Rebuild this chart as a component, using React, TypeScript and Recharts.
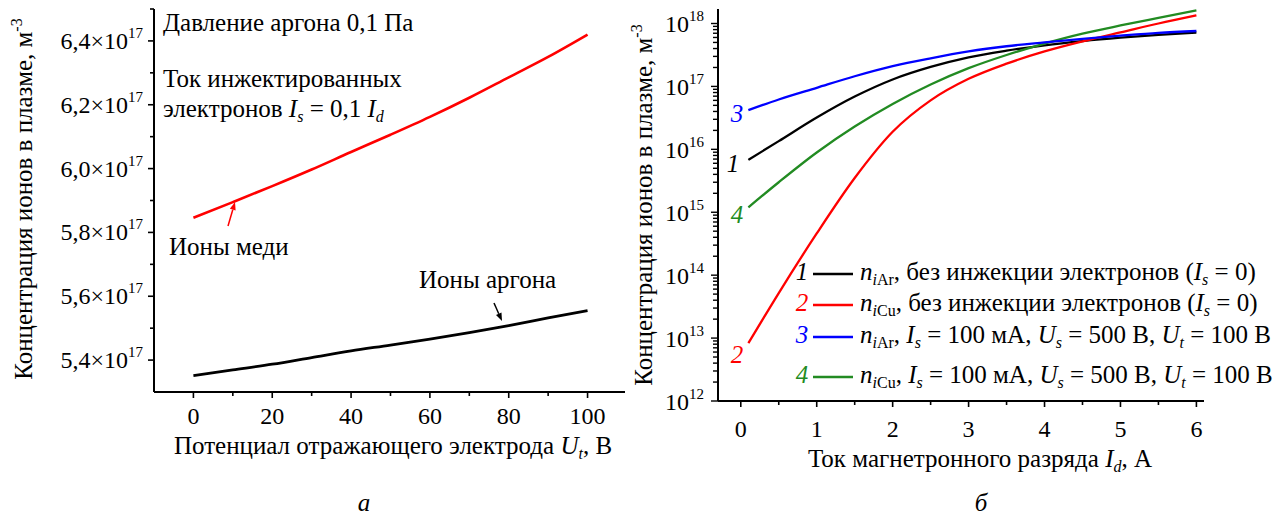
import React from 'react';
import { LineChart, Line, XAxis, YAxis } from 'recharts';

const FONT = "'Liberation Serif', 'DejaVu Serif', 'Times New Roman', serif";

// panel "а": ion density vs reflecting electrode potential
const utValues = [0, 10, 20, 30, 40, 50, 60, 70, 80, 90, 100];
const cuIons = [5.846e17, 5.895e17, 5.945e17, 5.997e17, 6.052e17, 6.106e17, 6.162e17, 6.222e17, 6.286e17, 6.35e17, 6.42e17];
const arIons = [5.351e17, 5.369e17, 5.387e17, 5.408e17, 5.429e17, 5.447e17, 5.466e17, 5.486e17, 5.508e17, 5.532e17, 5.555e17];
const aXMajor = [0, 20, 40, 60, 80, 100];
const aXMinor = [10, 30, 50, 70, 90];
const aYMajor = [5.4e17, 5.6e17, 5.8e17, 6.0e17, 6.2e17, 6.4e17];
const aYMinor = [5.5e17, 5.7e17, 5.9e17, 6.1e17, 6.3e17, 6.5e17];

// panel "б": ion density vs discharge current (log)
const idValues = [0.1, 0.5, 1, 1.5, 2, 2.5, 3, 3.5, 4, 4.5, 5, 5.5, 6];
const nArNoInj = [6.8e15, 1.35e16, 3.2e16, 6.9e16, 1.29e17, 2.04e17, 2.9e17, 3.7e17, 4.5e17, 5.25e17, 5.95e17, 6.6e17, 7.2e17];
const nCuNoInj = [8.3e12, 5.2e13, 4.6e14, 3.5e15, 1.9e16, 6.0e16, 1.32e17, 2.3e17, 3.6e17, 5.2e17, 7.2e17, 1.0e18, 1.35e18];
const nArInj = [4.2e16, 6.2e16, 9.5e16, 1.45e17, 2.1e17, 2.8e17, 3.6e17, 4.35e17, 5.0e17, 5.7e17, 6.4e17, 7.1e17, 7.6e17];
const nCuInj = [1.2e15, 3.0e15, 8.9e15, 2.3e16, 5.25e16, 1.07e17, 1.95e17, 3.16e17, 4.8e17, 6.9e17, 9.3e17, 1.23e18, 1.62e18];
const bXMajor = [0, 1, 2, 3, 4, 5, 6];
const bXMinor = [0.5, 1.5, 2.5, 3.5, 4.5, 5.5];
const bYDecades = [12, 13, 14, 15, 16, 17, 18];
const bYSteps = [2, 3, 4, 5, 6, 7, 8, 9];
const B_Y_MAX = 1.7e18;

const RED = '#ff0000';
const BLUE = '#0000ff';
const GREEN = '#228b22';
const BLACK = '#000000';

const aData = utValues.map((x, i) => ({ x, cu: cuIons[i], ar: arIons[i] }));
const bData = idValues.map((x, i) => ({ x, s1: nArNoInj[i], s2: nCuNoInj[i], s3: nArInj[i], s4: nCuInj[i] }));

const aXTicks = [...aXMajor, ...aXMinor].sort((p, q) => p - q);
const aYTicks = [...aYMajor, ...aYMinor].sort((p, q) => p - q);
const bXTicks = [...bXMajor, ...bXMinor].sort((p, q) => p - q);
const bYTicks: number[] = [];
bYDecades.forEach((d) => {
  bYTicks.push(Math.pow(10, d));
  bYSteps.forEach((m) => {
    const v = m * Math.pow(10, d);
    if (v <= B_Y_MAX) bYTicks.push(v);
  });
});

const fontStyle = { fontFamily: FONT };

const AXTick = (props: any) => {
  const { x, y, payload } = props;
  const major = aXMajor.includes(payload.value);
  return (
    <g>
      <line x1={x} x2={x} y1={y} y2={y + (major ? 6 : 4)} stroke={BLACK} strokeWidth={1.6} />
      {major && (
        <text x={x} y={y + 32} textAnchor="middle" fontSize={24} style={fontStyle} fill={BLACK}>
          {payload.value}
        </text>
      )}
    </g>
  );
};

const AYTick = (props: any) => {
  const { x, y, payload } = props;
  const major = aYMajor.includes(payload.value);
  const label = (payload.value / 1e17).toFixed(1).replace('.', ',');
  return (
    <g>
      <line x1={x - (major ? 6 : 4)} x2={x} y1={y} y2={y} stroke={BLACK} strokeWidth={1.6} />
      {major && (
        <text x={x - 11} y={y + 8} textAnchor="end" fontSize={24} style={fontStyle} fill={BLACK}>
          {label}×10
          <tspan dy={-11} fontSize={15}>17</tspan>
        </text>
      )}
    </g>
  );
};

const BXTick = (props: any) => {
  const { x, y, payload } = props;
  const major = bXMajor.includes(payload.value);
  return (
    <g>
      <line x1={x} x2={x} y1={y} y2={y + (major ? 6 : 4)} stroke={BLACK} strokeWidth={1.6} />
      {major && (
        <text x={x} y={y + 36} textAnchor="middle" fontSize={24} style={fontStyle} fill={BLACK}>
          {payload.value}
        </text>
      )}
    </g>
  );
};

const BYTick = (props: any) => {
  const { x, y, payload } = props;
  const lg = Math.log10(payload.value);
  const major = Math.abs(lg - Math.round(lg)) < 1e-9;
  return (
    <g>
      <line x1={x - (major ? 7 : 5)} x2={x} y1={y} y2={y} stroke={BLACK} strokeWidth={1.4} />
      {major && (
        <text x={x - 14} y={y + 9} textAnchor="end" fontSize={24} style={fontStyle} fill={BLACK}>
          10
          <tspan dy={-11} fontSize={15}>{Math.round(lg)}</tspan>
        </text>
      )}
    </g>
  );
};

const axisLine = { stroke: BLACK, strokeWidth: 2 };

function LegendRow({ y, num, color, kind, rest }: { y: number; num: string; color: string; kind: string; rest: 'none' | 'inj' }) {
  return (
    <g fontSize={25} fill={BLACK}>
      <text x={802} y={y} textAnchor="middle" fontStyle="italic" fill={color}>{num}</text>
      <line x1={813} x2={853} y1={y - 6} y2={y - 6} stroke={color} strokeWidth={2.3} />
      <text x={860} y={y}>
        <tspan fontStyle="italic">n</tspan>
        <tspan fontSize={16} dy={5} fontStyle="italic">i</tspan>
        <tspan fontSize={16}>{kind}</tspan>
        {rest === 'none' ? (
          <>
            <tspan dy={-5}>, без инжекции электронов (</tspan>
            <tspan fontStyle="italic">I</tspan>
            <tspan fontSize={16} dy={5} fontStyle="italic">s</tspan>
            <tspan dy={-5}> = 0)</tspan>
          </>
        ) : (
          <>
            <tspan dy={-5}>, </tspan>
            <tspan fontStyle="italic">I</tspan>
            <tspan fontSize={16} dy={5} fontStyle="italic">s</tspan>
            <tspan dy={-5}> = 100 мА, </tspan>
            <tspan fontStyle="italic">U</tspan>
            <tspan fontSize={16} dy={5} fontStyle="italic">s</tspan>
            <tspan dy={-5}> = 500 В, </tspan>
            <tspan fontStyle="italic">U</tspan>
            <tspan fontSize={16} dy={5} fontStyle="italic">t</tspan>
            <tspan dy={-5}> = 100 В</tspan>
          </>
        )}
      </text>
    </g>
  );
}

function Arrow({ x1, y1, x2, y2, color }: { x1: number; y1: number; x2: number; y2: number; color: string }) {
  const a = Math.atan2(y2 - y1, x2 - x1);
  const L = 8;
  const w = 3;
  const bx = x2 - L * Math.cos(a);
  const by = y2 - L * Math.sin(a);
  const px = -Math.sin(a) * w;
  const py = Math.cos(a) * w;
  return (
    <g>
      <line x1={x1} y1={y1} x2={bx} y2={by} stroke={color} strokeWidth={1.5} />
      <polygon points={`${x2},${y2} ${bx + px},${by + py} ${bx - px},${by - py}`} fill={color} />
    </g>
  );
}

export default function App() {
  return (
    <div style={{ position: 'absolute', left: 0, top: 0, width: 1284, height: 515, background: '#fff', overflow: 'hidden', fontFamily: FONT }}>
      <div style={{ position: 'absolute', left: 0, top: 0 }}>
        <LineChart width={640} height={515} data={aData} margin={{ top: 9, right: 15, left: 54, bottom: 93 }}>
          <XAxis
            dataKey="x"
            type="number"
            domain={[-10, 109.5]}
            ticks={aXTicks}
            interval={0}
            tickSize={0}
            tickMargin={0}
            tickLine={false}
            axisLine={axisLine}
            tick={<AXTick />}
            height={30}
            allowDataOverflow
          />
          <YAxis
            type="number"
            domain={[5.3e17, 6.5e17]}
            ticks={aYTicks}
            interval={0}
            tickSize={0}
            tickMargin={0}
            tickLine={false}
            axisLine={axisLine}
            tick={<AYTick />}
            width={100}
            allowDataOverflow
          />
          <Line dataKey="cu" type="monotone" stroke={RED} strokeWidth={2.6} dot={false} isAnimationActive={false} />
          <Line dataKey="ar" type="monotone" stroke={BLACK} strokeWidth={2.8} dot={false} isAnimationActive={false} />
        </LineChart>
      </div>
      <div style={{ position: 'absolute', left: 640, top: 0 }}>
        <LineChart width={644} height={515} data={bData} margin={{ top: 9, right: 80, left: 18, bottom: 84 }}>
          <XAxis
            dataKey="x"
            type="number"
            domain={[-0.3, 6.1]}
            ticks={bXTicks}
            interval={0}
            tickSize={0}
            tickMargin={0}
            tickLine={false}
            axisLine={axisLine}
            tick={<BXTick />}
            height={30}
            allowDataOverflow
          />
          <YAxis
            type="number"
            scale="log"
            domain={[1e12, B_Y_MAX]}
            ticks={bYTicks}
            interval={0}
            tickSize={0}
            tickMargin={0}
            tickLine={false}
            axisLine={axisLine}
            tick={<BYTick />}
            width={60}
            allowDataOverflow
          />
          <Line dataKey="s1" type="monotone" stroke={BLACK} strokeWidth={2.3} dot={false} isAnimationActive={false} />
          <Line dataKey="s4" type="monotone" stroke={GREEN} strokeWidth={2.3} dot={false} isAnimationActive={false} />
          <Line dataKey="s2" type="monotone" stroke={RED} strokeWidth={2.3} dot={false} isAnimationActive={false} />
          <Line dataKey="s3" type="monotone" stroke={BLUE} strokeWidth={2.3} dot={false} isAnimationActive={false} />
        </LineChart>
      </div>
      <svg width={1284} height={515} style={{ position: 'absolute', left: 0, top: 0, pointerEvents: 'none', fontFamily: FONT }}>
        <g fontSize={25} fill={BLACK}>
          {/* panel а */}
          <text x={163} y={31}>Давление аргона 0,1 Па</text>
          <text x={163} y={87}>Ток инжектированных</text>
          <text x={163} y={117}>
            электронов <tspan fontStyle="italic">I</tspan>
            <tspan fontSize={16} dy={5} fontStyle="italic">s</tspan>
            <tspan dy={-5}> = 0,1 </tspan>
            <tspan fontStyle="italic">I</tspan>
            <tspan fontSize={16} dy={5} fontStyle="italic">d</tspan>
          </text>
          <text x={169} y={255}>Ионы меди</text>
          <text x={419} y={288}>Ионы аргона</text>
          <text x={32} y={199} textAnchor="middle" transform="rotate(-90, 32, 199)">
            Концентрация ионов в плазме, м<tspan dy={-10} fontSize={16}>-3</tspan>
          </text>
          <text x={393} y={454} textAnchor="middle">
            Потенциал отражающего электрода <tspan fontStyle="italic">U</tspan>
            <tspan fontSize={16} dy={5} fontStyle="italic">t</tspan>
            <tspan dy={-5}>, В</tspan>
          </text>
          <text x={364} y={511} textAnchor="middle" fontStyle="italic">а</text>

          {/* panel б */}
          <text x={652} y={205} textAnchor="middle" transform="rotate(-90, 652, 205)">
            Концентрация ионов в плазме, м<tspan dy={-10} fontSize={16}>-3</tspan>
          </text>
          <text x={980} y={467} textAnchor="middle">
            Ток магнетронного разряда <tspan fontStyle="italic">I</tspan>
            <tspan fontSize={16} dy={5} fontStyle="italic">d</tspan>
            <tspan dy={-5}>, А</tspan>
          </text>
          <text x={981} y={511} textAnchor="middle" fontStyle="italic">б</text>
          <text x={737} y={122} textAnchor="middle" fontStyle="italic" fill={BLUE}>3</text>
          <text x={733} y={172} textAnchor="middle" fontStyle="italic" fill={BLACK}>1</text>
          <text x={737} y={223} textAnchor="middle" fontStyle="italic" fill={GREEN}>4</text>
          <text x={737} y={363} textAnchor="middle" fontStyle="italic" fill={RED}>2</text>
        </g>
        <Arrow x1={228} y1={226} x2={235} y2={202} color={RED} />
        <Arrow x1={494} y1={303} x2={502} y2={321} color={BLACK} />
        <LegendRow y={280} num="1" color={BLACK} kind="Ar" rest="none" />
        <LegendRow y={311} num="2" color={RED} kind="Cu" rest="none" />
        <LegendRow y={343} num="3" color={BLUE} kind="Ar" rest="inj" />
        <LegendRow y={383} num="4" color={GREEN} kind="Cu" rest="inj" />
      </svg>
    </div>
  );
}
